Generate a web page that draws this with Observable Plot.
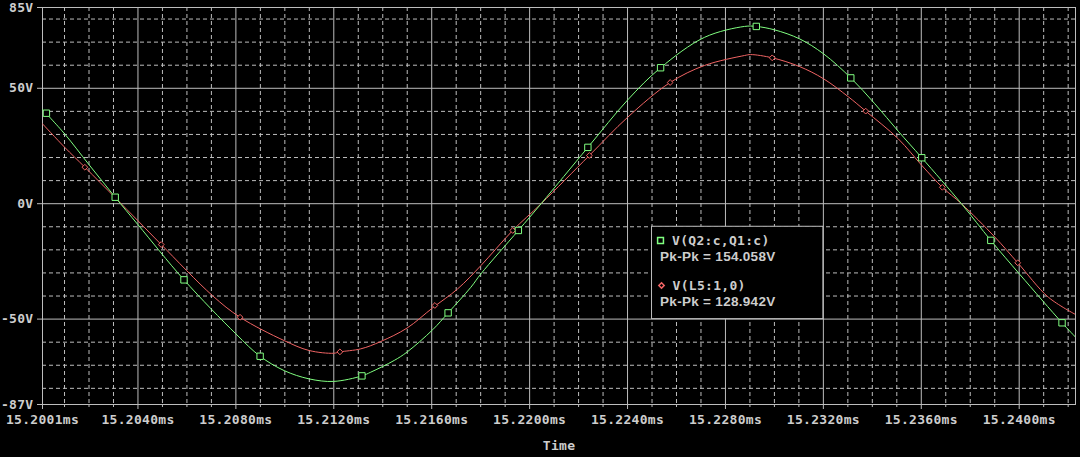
<!DOCTYPE html>
<html><head><meta charset="utf-8">
<script src="https://cdn.jsdelivr.net/npm/d3@7"></script>
<script src="https://cdn.jsdelivr.net/npm/@observablehq/plot@0.6"></script>
<style>
html,body{margin:0;padding:0;background:#000;}
#chart{width:1080px;height:457px;overflow:hidden;}
</style></head><body><div id="chart"></div>
<script>
// ---- data ----
const greenName = "V(Q2:c,Q1:c)";
const greenPkPk = "Pk-Pk = 154.058V";
const redName = "V(L5:1,0)";
const redPkPk = "Pk-Pk = 128.942V";

const greenT = [15.2001, 15.2010, 15.2020, 15.20307, 15.2040, 15.20588, 15.2080, 15.20899, 15.20997, 15.21099, 15.21199, 15.21315, 15.21351, 15.21447, 15.21499, 15.21604, 15.21667, 15.21760, 15.21801, 15.21954, 15.22047, 15.22238, 15.22401, 15.22535, 15.22715, 15.22878, 15.22926, 15.23001, 15.23103, 15.23201, 15.23312, 15.23410, 15.23506, 15.23602, 15.23764, 15.23884, 15.24003, 15.24175, 15.2423];
const greenV = [40.8, 30.3, 16.9, 2.8, -9.1, -33.0, -56.4, -66.1, -72.3, -75.9, -77.0, -74.6, -73.0, -67.9, -64.3, -54.6, -47.3, -36.2, -30.4, -11.6, 0.0, 24.4, 45.0, 58.9, 72.1, 76.8, 76.8, 75.3, 71.4, 64.9, 54.5, 43.3, 31.4, 19.9, 0.0, -15.9, -30.7, -51.6, -57.8];

const redT = [15.2001, 15.2010, 15.20183, 15.20307, 15.2040, 15.20495, 15.20704, 15.20817, 15.20997, 15.21099, 15.21199, 15.21225, 15.21310, 15.21392, 15.21499, 15.21604, 15.21706, 15.21801, 15.21931, 15.22047, 15.22244, 15.22401, 15.22574, 15.22715, 15.22878, 15.22903, 15.22991, 15.23103, 15.23201, 15.23301, 15.23373, 15.23506, 15.23602, 15.23686, 15.23764, 15.23901, 15.23994, 15.24119, 15.2423];
const redV = [34.6, 24.5, 15.8, 2.6, -7.4, -17.7, -39.8, -49.2, -59.3, -63.6, -64.8, -64.2, -62.9, -59.7, -53.9, -45.1, -36.9, -26.8, -11.6, 0.0, 20.9, 37.5, 52.5, 59.9, 64.2, 64.6, 63.2, 59.4, 54.1, 46.4, 40.1, 28.1, 16.6, 7.1, 0.0, -14.5, -25.6, -40.5, -48.0];

const greenMarkT = [15.20026, 15.20307, 15.20588, 15.20899, 15.21315, 15.21667, 15.21954, 15.22238, 15.22535, 15.22926, 15.23312, 15.23602, 15.23884, 15.24175];
const greenMarkV = [39.2, 2.8, -33.0, -66.1, -74.6, -47.3, -11.6, 24.4, 58.9, 76.8, 54.5, 19.9, -15.9, -51.6];
const redMarkT = [15.20183, 15.20495, 15.20817, 15.21225, 15.21613, 15.21931, 15.22244, 15.22574, 15.22991, 15.23373, 15.23686, 15.23994];
const redMarkV = [15.8, -17.7, -49.2, -64.2, -44.1, -11.6, 20.9, 52.5, 63.2, 40.1, 7.1, -25.6];

const xTicks = [15.2001, 15.2040, 15.2080, 15.2120, 15.2160, 15.2200, 15.2240, 15.2280, 15.2320, 15.2360, 15.2400];
const yTicks = [85, 50, 0, -50, -87];
const xMajorGrid = [15.2040, 15.2080, 15.2120, 15.2160, 15.2200, 15.2240, 15.2280, 15.2320, 15.2360, 15.2400];
const xMinorGrid = [15.201, 15.202, 15.203, 15.205, 15.206, 15.207, 15.209, 15.210, 15.211, 15.213, 15.214, 15.215, 15.217, 15.218, 15.219, 15.221, 15.222, 15.223, 15.225, 15.226, 15.227, 15.229, 15.230, 15.231, 15.233, 15.234, 15.235, 15.237, 15.238, 15.239, 15.241, 15.242];
const yMajorGrid = [50, 0, -50];
const yMinorGrid = [80, 70, 60, 40, 30, 20, 10, -10, -20, -30, -40, -60, -70, -80];
const xLabel = "Time";

// ---- build tables ----
const green = greenT.map((t, i) => ({t, v: greenV[i]}));
const red = redT.map((t, i) => ({t, v: redV[i]}));
const greenMarks = greenMarkT.map((t, i) => ({t, v: greenMarkV[i]}));
const redMarks = redMarkT.map((t, i) => ({t, v: redMarkV[i]}));

const GREEN = "#80ff80", RED = "#f06464", GRID = "#bdbdbd", TEXT = "#cdcdcd";
const legendBox = {x1: 15.2250, x2: 15.2320, y1: -50, y2: -10};
const mono = "DejaVu Sans Mono";
const sans = "Liberation Sans";

const chart = Plot.plot({
  width: 1080, height: 457,
  marginLeft: 42, marginRight: 5, marginTop: 7, marginBottom: 53,
  style: {background: "#000", color: TEXT, fontFamily: mono, fontSize: "13px", fontWeight: "bold", letterSpacing: "0.3px"},
  x: {domain: [15.2001, 15.2423]},
  y: {domain: [-87, 85]},
  marks: [
    Plot.ruleX(xMinorGrid, {stroke: GRID, strokeDasharray: "4,3", strokeWidth: 1}),
    Plot.ruleY(yMinorGrid, {stroke: GRID, strokeDasharray: "4,3", strokeWidth: 1}),
    Plot.ruleX(xMajorGrid, {stroke: GRID, strokeWidth: 1}),
    Plot.ruleY(yMajorGrid, {stroke: GRID, strokeWidth: 1}),
    Plot.frame({stroke: GRID}),
    Plot.axisY({ticks: yTicks, tickFormat: d => `${d}V`, tickSize: 5, tickPadding: 4, label: null, stroke: GRID}),
    Plot.axisX({ticks: xTicks, tickFormat: d => d.toFixed(4) + "ms", tickSize: 5, tickPadding: 5, label: null, stroke: GRID}),
    Plot.axisX({ticks: xMinorGrid, tickFormat: () => "", tickSize: 3, label: null, stroke: GRID}),
    Plot.text([xLabel], {frameAnchor: "bottom", dy: 45, text: d => d, fill: TEXT}),
    // legend box
    Plot.rect([legendBox], {x1: "x1", x2: "x2", y1: "y1", y2: "y2", fill: "#000", stroke: GRID}),
    // curves
    Plot.line(red, {x: "t", y: "v", stroke: RED, strokeWidth: 1, curve: "catmull-rom", clip: true}),
    Plot.line(green, {x: "t", y: "v", stroke: GREEN, strokeWidth: 1, curve: "catmull-rom", clip: true}),
    Plot.dot(redMarks, {x: "t", y: "v", symbol: "diamond2", r: 2.6, stroke: RED, fill: "#000", strokeWidth: 1}),
    Plot.dot(greenMarks, {x: "t", y: "v", symbol: "square", r: 3.6, stroke: GREEN, fill: "#000", strokeWidth: 1}),
    // legend contents
    Plot.dot([legendBox], {x: "x1", y: "y2", dx: 8.5, dy: 13.7, symbol: "square", r: 3.3, stroke: GREEN, fill: "#000"}),
    Plot.text([greenName], {x: () => legendBox.x1, y: () => legendBox.y2, dx: 20, dy: 14, text: d => d, textAnchor: "start", fill: TEXT, fontFamily: mono}),
    Plot.text([greenPkPk], {x: () => legendBox.x1, y: () => legendBox.y2, dx: 8, dy: 29.5, text: d => d, textAnchor: "start", fill: TEXT, fontFamily: sans, fontSize: 13.5}),
    Plot.dot([legendBox], {x: "x1", y: "y2", dx: 9.5, dy: 58.7, symbol: "diamond2", r: 2.4, stroke: RED, fill: "#000"}),
    Plot.text([redName], {x: () => legendBox.x1, y: () => legendBox.y2, dx: 20.5, dy: 58.7, text: d => d, textAnchor: "start", fill: TEXT, fontFamily: mono}),
    Plot.text([redPkPk], {x: () => legendBox.x1, y: () => legendBox.y2, dx: 8, dy: 74.7, text: d => d, textAnchor: "start", fill: TEXT, fontFamily: sans, fontSize: 13.5})
  ]
});
document.getElementById("chart").appendChild(chart);
</script>
</body></html>
